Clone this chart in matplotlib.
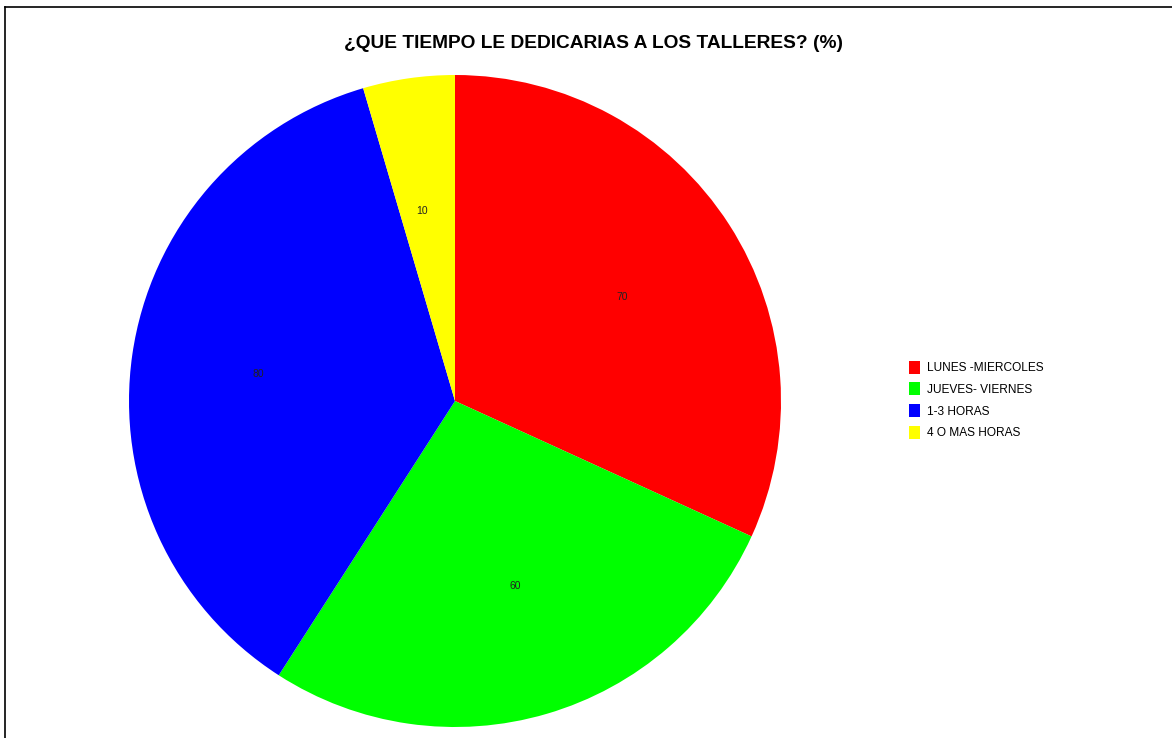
import matplotlib.pyplot as plt
from matplotlib.lines import Line2D

plt.rcParams['font.family'] = ['Liberation Sans', 'DejaVu Sans']

# Data
categorias = ['LUNES -MIERCOLES', 'JUEVES- VIERNES', '1-3 HORAS', '4 O MAS HORAS']
valores = [70, 60, 80, 10]
colores = ['#ff0000', '#00ff00', '#0000ff', '#ffff00']

W, H = 1172, 738
fig = plt.figure(figsize=(W / 100, H / 100), dpi=100)

# pie axes: center (455, 401), radius 326 px
cx, cy, r = 455, 401, 326
ax = fig.add_axes([(cx - r) / W, (H - cy - r) / H, 2 * r / W, 2 * r / H])
wedges, texts = ax.pie(valores, labels=[str(v) for v in valores], colors=colores,
                       startangle=90, counterclock=False, labeldistance=0.59,
                       textprops={'fontsize': 7.5, 'color': '#222222'})
ax.set_xlim(-1, 1)
ax.set_ylim(-1, 1)
ax.set_aspect('equal')
ax.axis('off')

fig.text(594 / W, 1 - 43 / H, '¿QUE TIEMPO LE DEDICARIAS A LOS TALLERES? (%)',
         ha='center', va='center', fontsize=13.8, fontweight='bold')

leg = fig.legend(wedges, categorias, loc='center left',
                 bbox_to_anchor=(898 / W, 1 - 400 / H), frameon=False,
                 fontsize=8.6, handlelength=0.95, handleheight=1.3,
                 handletextpad=0.55, labelspacing=0.68)

# outer frame lines (left and top)
fig.add_artist(Line2D([5 / W, 5 / W], [0, 1 - 7 / H], color='black', lw=1.2))
fig.add_artist(Line2D([5 / W, 1], [1 - 7 / H, 1 - 7 / H], color='black', lw=1.2))

fig.savefig('out.png', dpi=100)
